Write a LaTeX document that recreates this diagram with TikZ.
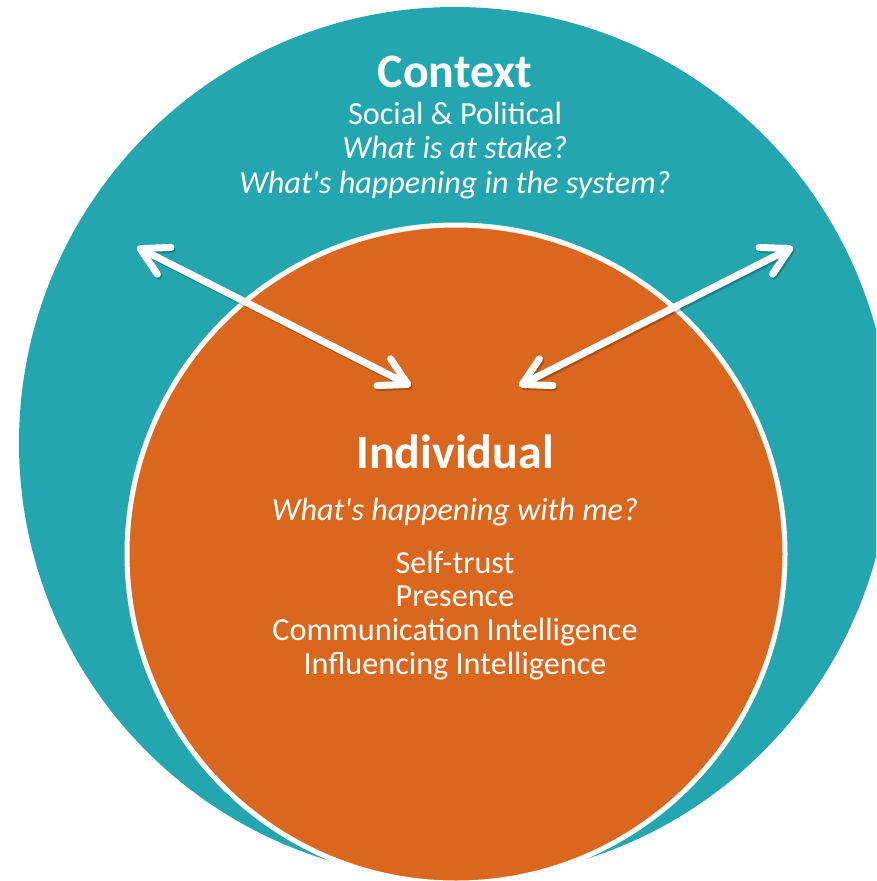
\documentclass[tikz,border=0pt]{standalone}
\usepackage{fontspec}
\usetikzlibrary{arrows.meta}
\newfontfamily\calib{Carlito}
\definecolor{ctxteal}{RGB}{35,166,176}
\definecolor{indorange}{RGB}{219,102,29}
\tikzset{
  label text/.style={text=white, inner sep=0pt, anchor=base, font=\calib},
  big title/.style={label text, font=\calib\bfseries\fontsize{48}{56}\selectfont},
  body line/.style={label text, font=\calib\fontsize{32.2}{36}\selectfont},
  italic line/.style={label text, font=\calib\itshape\fontsize{32.2}{36}\selectfont},
  link arrow/.style={white, line width=7pt, line cap=round,
    {Straight Barb[length=27pt, width=30pt, line cap=round, line join=round]}-{Straight Barb[length=27pt, width=30pt, line cap=round, line join=round]}},
  link shadow/.style={black, opacity=0.22, line width=7pt, line cap=round,
    {Straight Barb[length=27pt, width=30pt, line cap=round, line join=round]}-{Straight Barb[length=27pt, width=30pt, line cap=round, line join=round]}}
}
\begin{document}
\begin{tikzpicture}[x=1pt, y=-1pt]
  \clip (0,0) rectangle (876,881);
  \fill[white] (0,0) rectangle (876,881);

  % outer context circle and inner individual circle
  \fill[ctxteal] (455,443) circle (436pt);
  \fill[indorange, draw=white, line width=5pt] (456,554) circle (329pt);

  % context labels
  \node[big title]   (ctx)   at (455,87)  {Context};
  \node[body line]   (soc)   at (455,124) {Social \& Political};
  \node[italic line] (stake) at (455,158) {What is at stake?};
  \node[italic line] (sys)   at (455,193) {What's happening in the system?};

  % individual labels
  \node[big title]   (ind)   at (455,468) {Individual};
  \node[italic line] (me)    at (455,520) {What's happening with me?};
  \node[body line]   (st)    at (455,573) {Self-trust};
  \node[body line]   (pres)  at (455,606) {Presence};
  \node[body line]   (comm)  at (455,640) {Communication Intelligence};
  \node[body line]   (infl)  at (455,674) {Influencing Intelligence};

  % arrow end points
  \coordinate (ctxL) at (137,247);
  \coordinate (indL) at (411,386);
  \coordinate (ctxR) at (793,247);
  \coordinate (indR) at (519,386);

  % two-way links with a soft shadow
  \draw[link shadow] ([shift={(1.5,2)}]ctxL) -- ([shift={(1.5,2)}]indL);
  \draw[link shadow] ([shift={(1.5,2)}]ctxR) -- ([shift={(1.5,2)}]indR);
  \draw[link arrow] (ctxL) -- (indL);
  \draw[link arrow] (ctxR) -- (indR);
\end{tikzpicture}
\end{document}
